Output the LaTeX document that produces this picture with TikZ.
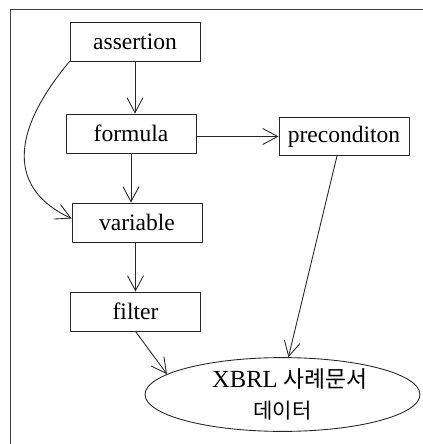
\documentclass[tikz,border=0pt]{standalone}
\usepackage{fontspec}
\setmainfont{Liberation Serif}
\newfontfamily\krfont{Noto Sans CJK KR}
\usetikzlibrary{shapes.geometric}
\usetikzlibrary{arrows.meta}

\begin{document}
\begin{tikzpicture}
    [line cap=round,line join=round,x=0.02cm,y=-0.02cm,
     box/.style={draw=black!85,line width=0.5pt,minimum width=2.6cm,minimum height=0.78cm,
                 inner sep=0pt,font=\fontsize{13.4}{15}\selectfont},
     link/.style={draw=black!85,line width=0.5pt,-{Straight Barb[length=0.3cm,width=0.32cm]}}]
\useasboundingbox (0,0) rectangle (423,444);
%frame, only top and left edges
 \draw[black!75,line width=0.5pt] (423,9) -- (10,9) -- (10,444);

%boxes
 \node[box] (assertion) at (135,41.5) {assertion};
 \node[box] (formula) at (131,133.5) {formula};
 \node[box,minimum height=0.76cm] (precond) at (344,136.5) {preconditon};
 \node[box] (variable) at (137,222.5) {variable};
 \node[box] (filter) at (135.5,311.5) {filter};
 \node[draw=black!85,line width=0.5pt,ellipse,minimum width=5.5cm,minimum height=1.46cm,
       inner sep=0pt,align=center,font=\fontsize{14}{17}\selectfont] (data) at (282.5,394.5)
       {\hspace*{0.3cm}XBRL {\krfont\fontsize{13}{17}\selectfont 사례문서}\\[1pt]
        \krfont\fontsize{12}{14}\selectfont 데이터};

%connectors
 \draw[link] (assertion.south) -- (assertion.south |- formula.north);
 \draw[link] (formula.south) -- (formula.south |- variable.north);
 \draw[link] (filter.north |- variable.south) -- (filter.north);
 \draw[link] (formula.east |- precond.west) -- (precond.west);
 \draw[link] (assertion.south west) .. controls (8,135) and (10,190) .. ([yshift=0.08cm]variable.west);
 \draw[link] (filter.south) -- (data.170);
 \draw[link] ([xshift=-0.14cm]precond.south) -- (data.81);
\end{tikzpicture}
\end{document}
